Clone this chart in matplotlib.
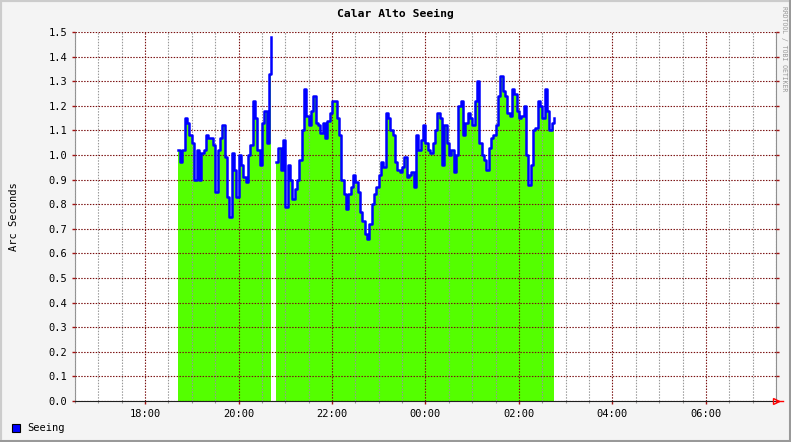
import numpy as np
import matplotlib
matplotlib.use("Agg")
import matplotlib.pyplot as plt
from matplotlib.ticker import MultipleLocator, FuncFormatter
from matplotlib.patches import Rectangle

# ---------------------------------------------------------------------------
# DATA  (seeing in arc seconds, 3-minute samples)
# ---------------------------------------------------------------------------
STEP_H = 0.05            # 3 minutes in hours
seg1_start = 18.7        # 18:42
seg2_start = 20.8        # 20:48

seeing_seg1 = [
    1.02, 0.97, 1.02, 1.15, 1.13, 1.08, 1.05, 0.90, 1.02, 0.90,
    1.01, 1.02, 1.08, 1.07, 1.07, 1.04, 0.85, 1.02, 1.07, 1.12,
    0.99, 0.83, 0.75, 1.01, 0.94, 0.83, 1.00, 0.96, 0.91, 0.89,
    1.00, 1.04, 1.22, 1.15, 1.02, 0.96, 1.13, 1.18, 1.05, 1.33,
    1.48,
]

seeing_seg2 = [
    0.97, 1.03, 0.94, 1.06, 0.79, 0.96, 0.90, 0.82, 0.86, 0.90,
    0.98, 1.10, 1.27, 1.16, 1.12, 1.18, 1.24, 1.13, 1.12, 1.09,
    1.13, 1.07, 1.14, 1.17, 1.22, 1.22, 1.15, 1.08, 0.90, 0.84,
    0.78, 0.84, 0.87, 0.92, 0.89, 0.85, 0.77, 0.73, 0.68, 0.66,
    0.72, 0.80, 0.84, 0.87, 0.92, 0.97, 0.95, 1.17, 1.15, 1.10,
    1.08, 0.97, 0.94, 0.93, 0.95, 0.99, 0.91, 0.92, 0.93, 0.87,
    1.08, 1.02, 1.06, 1.12, 1.05, 1.02, 1.01, 1.05, 1.10, 1.17,
    1.15, 0.96, 1.12, 1.05, 1.00, 1.02, 0.93, 1.00, 1.20, 1.22,
    1.08, 1.13, 1.17, 1.15, 1.12, 1.22, 1.30, 1.05, 1.00, 0.98,
    0.94, 1.03, 1.07, 1.08, 1.12, 1.24, 1.32, 1.26, 1.24, 1.17,
    1.16, 1.27, 1.25, 1.18, 1.15, 1.16, 1.20, 1.00, 0.88, 0.96,
    1.10, 1.11, 1.22, 1.20, 1.15, 1.27, 1.18, 1.10, 1.13, 1.15,
]

t_seg1 = seg1_start + STEP_H * np.arange(len(seeing_seg1))
t_seg2 = seg2_start + STEP_H * np.arange(len(seeing_seg2))

x_range = (16.5, 31.5)   # 16:30 .. 07:30 next day
y_range = (0.0, 1.5)

GREEN = "#54ff00"
BLUE = "#0000ff"
GRID_MAJOR = "#7a1010"
GRID_MINOR = "#999999"
BG = "#f4f4f4"

plt.rcParams["font.family"] = "DejaVu Sans Mono"

# ---------------------------------------------------------------------------
# PLOT
# ---------------------------------------------------------------------------
fig = plt.figure(figsize=(7.91, 4.42), dpi=100, facecolor=BG)
ax = fig.add_axes([75 / 791, 41 / 442, 701 / 791, 369 / 442])
ax.set_facecolor("white")

for t, v in [(t_seg1, seeing_seg1), (t_seg2, seeing_seg2)]:
    ax.fill_between(t, v, 0, step="post", color=GREEN, lw=0, zorder=2)
    ax.plot(t, v, drawstyle="steps-post", color=BLUE, lw=1.8, zorder=3)

ax.set_xlim(*x_range)
ax.set_ylim(*y_range)

# grid
ax.xaxis.set_major_locator(MultipleLocator(2))
ax.xaxis.set_minor_locator(MultipleLocator(0.5))
ax.yaxis.set_major_locator(MultipleLocator(0.1))
ax.xaxis.set_major_formatter(FuncFormatter(lambda h, _: f"{int(round(h)) % 24:02d}:00"))
ax.yaxis.set_major_formatter(FuncFormatter(lambda v, _: f"{v:.1f}"))

dots = (0, (1.3, 1.3))
ax.grid(which="minor", axis="x", color=GRID_MINOR, ls=dots, lw=0.8, zorder=4)
ax.grid(which="major", axis="x", color=GRID_MAJOR, ls=dots, lw=0.8, zorder=4)
ax.grid(which="major", axis="y", color=GRID_MAJOR, ls=dots, lw=0.8, zorder=4)
ax.set_axisbelow(False)

ax.tick_params(axis="y", which="major", direction="out", length=2.5, width=1,
               color="#a01010", labelsize=7.5, pad=3, right=True, labelcolor="black")
ax.tick_params(axis="x", which="major", direction="out", length=2, width=1,
               color="#a01010", labelsize=7.5, pad=4)
ax.tick_params(axis="x", which="minor", direction="out", length=1.5, width=0.8,
               color=GRID_MINOR)

ax.spines["top"].set_visible(False)
ax.spines["left"].set_color("#909090")
ax.spines["right"].set_color("#909090")
ax.spines["bottom"].set_color("#202020")
ax.spines["bottom"].set_zorder(6)

# red arrow at the end of the time axis
ax.plot([x_range[1]], [0], marker=">", ms=5, mfc="none", mec="red", mew=1,
        clip_on=False, zorder=7)
ax.plot([x_range[1], x_range[1] + 0.15], [0, 0], color="red", lw=1,
        clip_on=False, zorder=7)

# texts
fig.text(0.5, 1 - 14 / 442, "Calar Alto Seeing", ha="center", va="center",
         fontsize=8.2, fontweight="bold")
fig.text(14 / 791, 1 - 217 / 442, "Arc Seconds", rotation=90, ha="center",
         va="center", fontsize=7.5)
fig.text(784 / 791, 1 - 49 / 442, "RRDTOOL / TOBI OETIKER", rotation=270,
         ha="center", va="center", fontsize=4.7, color="#999999")

# legend
fig.patches.append(Rectangle((12 / 791, 1 - 432 / 442), 8 / 791, 8 / 442,
                             transform=fig.transFigure, facecolor=BLUE,
                             edgecolor="black", lw=0.8))
fig.text(27 / 791, 1 - 428 / 442, "Seeing", ha="left", va="center", fontsize=7.5)

# 3D frame around the image
fig.patches.append(Rectangle((0, 0), 1, 1, transform=fig.transFigure,
                             fill=False, edgecolor="#cccccc", lw=3))
fig.patches.append(Rectangle((0, 0), 1, 2 / 442, transform=fig.transFigure,
                             facecolor="#999999", lw=0))
fig.patches.append(Rectangle((1 - 2 / 791, 0), 2 / 791, 1, transform=fig.transFigure,
                             facecolor="#999999", lw=0))

fig.savefig("out.png", dpi=100, facecolor=BG)
